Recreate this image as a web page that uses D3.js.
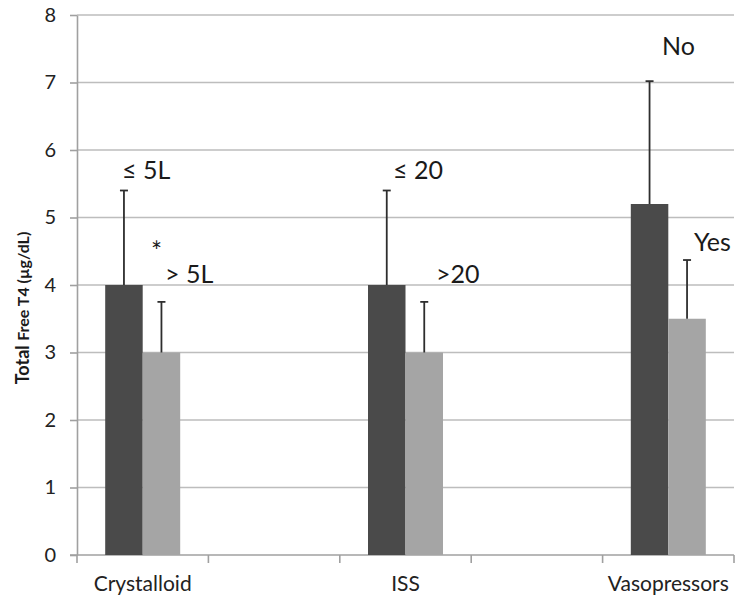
<!DOCTYPE html>
<html><head><meta charset="utf-8">
<script src="https://cdn.jsdelivr.net/npm/d3@7"></script>
<style>body{margin:0;background:#fff;} svg{display:block;}</style>
</head><body>
<svg id="chart" width="741" height="611"></svg>
<script>
// Data
const slots = ["Crystalloid", "gap1", "ISS", "gap2", "Vasopressors"];
const slotLabels = ["Crystalloid", "", "ISS", "", "Vasopressors"];
const seriesA = [4.0, null, 4.0, null, 5.2];   // dark
const seriesB = [3.0, null, 3.0, null, 3.5];   // light
const errA = [1.4, null, 1.4, null, 1.82];
const errB = [0.75, null, 0.75, null, 0.87];
const labelsA = ["\u2264 5L", "", "\u2264 20", "", "No"];
const labelsB = ["> 5L", "", ">20", "", "Yes"];
const yTicks = [0, 1, 2, 3, 4, 5, 6, 7, 8];

const svg = d3.select("#chart");
const L = 77, R = 734, T = 15, B = 555;
const font = "Lato, 'Open Sans', sans-serif";

const x = d3.scaleBand().domain(slots).range([L, R]).paddingInner(0).paddingOuter(0);
const y = d3.scaleLinear().domain([0, 8]).range([B, T]);
const barW = 37.5;

// gridlines
svg.append("g").selectAll("line").data(yTicks.filter(d => d > 0)).join("line")
  .attr("x1", L).attr("x2", R).attr("y1", d => y(d)).attr("y2", d => y(d))
  .attr("stroke", "#bdbdbd").attr("stroke-width", 1.6);

// y axis
const yAxis = svg.append("g").attr("transform", `translate(${L},0)`)
  .call(d3.axisLeft(y).tickValues(yTicks).tickSize(7).tickSizeOuter(0).tickPadding(14));
yAxis.select(".domain").attr("stroke", "#a0a0a0").attr("stroke-width", 1.6);
yAxis.selectAll(".tick line").attr("stroke", "#a0a0a0").attr("stroke-width", 1.6);
yAxis.selectAll("text").attr("font-family", font).attr("font-size", 20).attr("fill", "#222");

// x axis
const xAxis = svg.append("g").attr("transform", `translate(0,${B})`);
xAxis.append("line").attr("x1", L - 7).attr("x2", R).attr("y1", 0).attr("y2", 0)
  .attr("stroke", "#a0a0a0").attr("stroke-width", 1.6);
const bounds = slots.map(s => x(s)).concat([x(slots[slots.length - 1]) + x.bandwidth()]);
xAxis.selectAll("line.tk").data(bounds).join("line").attr("class", "tk")
  .attr("x1", d => d).attr("x2", d => d).attr("y1", 0).attr("y2", 8)
  .attr("stroke", "#a0a0a0").attr("stroke-width", 1.6);
xAxis.selectAll("text").data(slots).join("text")
  .attr("x", d => x(d) + x.bandwidth() / 2).attr("y", 36)
  .attr("text-anchor", "middle").attr("font-family", font).attr("font-size", 21).attr("fill", "#222")
  .text((d, i) => slotLabels[i]);

// bars
const data = slots.map((s, i) => ({s, a: seriesA[i], b: seriesB[i], ea: errA[i], eb: errB[i], la: labelsA[i], lb: labelsB[i]}))
  .filter(d => d.a != null);
const cx = d => x(d.s) + x.bandwidth() / 2;

const g = svg.append("g");
g.selectAll("rect.a").data(data).join("rect").attr("class", "a")
  .attr("x", d => cx(d) - barW).attr("width", barW)
  .attr("y", d => y(d.a)).attr("height", d => y(0) - y(d.a)).attr("fill", "#4a4a4a");
g.selectAll("rect.b").data(data).join("rect").attr("class", "b")
  .attr("x", d => cx(d)).attr("width", barW)
  .attr("y", d => y(d.b)).attr("height", d => y(0) - y(d.b)).attr("fill", "#a5a5a5");

// error bars
function errBar(sel, xf, vf, ef) {
  sel.append("line").attr("x1", xf).attr("x2", xf).attr("y1", d => y(vf(d))).attr("y2", d => y(vf(d) + ef(d)))
    .attr("stroke", "#2e2e2e").attr("stroke-width", 1.8);
  sel.append("line").attr("x1", d => xf(d) - 4).attr("x2", d => xf(d) + 4)
    .attr("y1", d => y(vf(d) + ef(d))).attr("y2", d => y(vf(d) + ef(d)))
    .attr("stroke", "#2e2e2e").attr("stroke-width", 1.8);
}
const ge = svg.append("g").selectAll("g").data(data).join("g");
errBar(ge, d => cx(d) - barW / 2, d => d.a, d => d.ea);
errBar(ge, d => cx(d) + barW / 2, d => d.b, d => d.eb);

// annotations
const ann = svg.append("g").attr("font-family", font).attr("font-size", 25).attr("fill", "#1a1a1a");
ann.append("text").attr("x", 122).attr("y", 179).text(labelsA[0]);
ann.append("text").attr("x", 165).attr("y", 283).text(labelsB[0]);
ann.append("text").attr("x", 151).attr("y", 261).attr("font-size", 26).text("*");
ann.append("text").attr("x", 393).attr("y", 179).text(labelsA[2]);
ann.append("text").attr("x", 436).attr("y", 283).text(labelsB[2]);
ann.append("text").attr("x", 662).attr("y", 55).text(labelsA[4]);
ann.append("text").attr("x", 694).attr("y", 251).text(labelsB[4]);

// y axis title
const title = svg.append("text").attr("transform", "translate(29,308) rotate(-90)")
  .attr("text-anchor", "middle").attr("font-family", font).attr("font-weight", "bold").attr("fill", "#1a1a1a");
title.append("tspan").attr("font-size", 18).text("Total ");
title.append("tspan").attr("font-size", 16).text("Free T4 (\u00b5g/dL)");
</script>
</body></html>
